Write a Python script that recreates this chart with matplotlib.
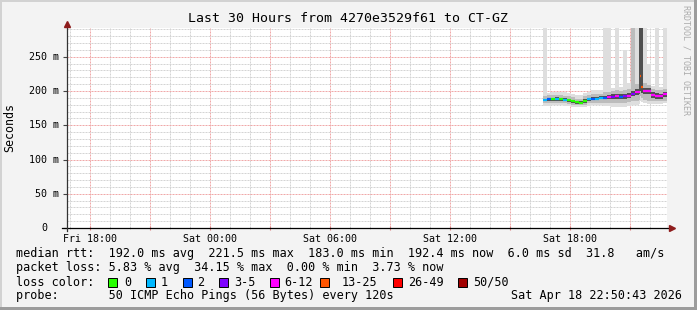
#!/usr/bin/env python3
"""SmokePing style latency graph: last 30 hours, 4270e3529f61 -> CT-GZ."""

import numpy as np
import matplotlib
matplotlib.use("Agg")
import matplotlib.pyplot as plt
import matplotlib.dates as mdates
import matplotlib.patches as mpatches
import matplotlib.transforms as mtransforms
from matplotlib.ticker import MultipleLocator, FuncFormatter

MONO = "DejaVu Sans Mono"
DAY = "2026-04-18"
T_START = "2026-04-17T16:50:43"
T_END = "2026-04-18T22:50:43"

# consolidated steps (start times, Sat 18 Apr); last step ends at 22:50
times = ["16:38", "16:50", "17:02", "17:14", "17:26", "17:38", "17:50", "18:02",
         "18:14", "18:26", "18:38", "18:50", "19:02", "19:14", "19:26", "19:38",
         "19:50", "20:02", "20:14", "20:26", "20:38", "20:50", "21:02", "21:14",
         "21:26", "21:30", "21:34", "21:38", "21:50", "22:02", "22:14", "22:26",
         "22:38"]
END_TIME = "22:50"

# median rtt (ms) and lost pings out of 50
median = [187, 188, 188, 188.5, 188, 187.5, 186.5, 185, 183.5, 183, 185.5, 188,
          189, 189, 190, 190, 191, 191.5, 192, 191.5, 192, 193, 196, 198,
          199, 221.5, 206, 200, 200, 194, 193, 192.5, 195]
lost = [1, 2, 0, 1, 0, 1, 0, 0, 0, 0, 0, 1, 2, 1, 1, 2, 7, 4, 9, 2, 4, 8, 4, 8,
        10, 17, 15, 9, 8, 10, 8, 9, 8]

# smoke: ping distribution per step (ms)
ping_min = [178, 178, 179, 179, 179, 178, 178, 177, 176, 176, 177, 178, 179, 179,
            179, 178, 178, 177, 177, 177, 177, 178, 179, 180, 181, 185, 184, 182,
            181, 181, 181, 181, 182]
band_lo = [182, 183, 183, 183, 183, 182, 181, 180, 179, 179, 180, 182, 183, 183,
           183, 183, 183, 183, 183, 183, 183, 184, 185, 186, 187, 192, 190, 187,
           186, 185, 185, 185, 186]
core_lo = [185, 186, 186, 186, 186, 185, 184, 183, 181, 181, 183, 186, 187, 187,
           188, 188, 188, 189, 189, 189, 189, 190, 192, 194, 196, 200, 197, 195,
           195, 190, 189, 189, 191]
core_hi = [189, 190, 190, 191, 190, 190, 189, 187, 186, 185, 188, 190, 191, 191,
           192, 193, 194, 195, 195, 195, 196, 197, 200, 203, 900, 900, 700, 205,
           204, 198, 197, 196, 199]
band_hi = [193, 194, 194, 194, 194, 193, 192, 191, 189, 189, 192, 194, 195, 195,
           196, 198, 199, 200, 201, 200, 201, 203, 330, 210, 900, 900, 900, 212,
           209, 203, 202, 201, 203]
ping_max = [420, 197, 199, 199, 198, 198, 197, 196, 194, 194, 197, 199, 201, 201,
            202, 450, 380, 205, 500, 206, 260, 212, 600, 480, 900, 900, 900, 500,
            240, 207, 400, 206, 450]

yticks = [0, 50, 100, 150, 200, 250]
ytick_labels = ["0", "50 m", "100 m", "150 m", "200 m", "250 m"]

loss_bins = [(0, 0), (1, 1), (2, 2), (3, 5), (6, 12), (13, 25), (26, 49), (50, 50)]
loss_names = ["0", "1", "2", "3-5", "6-12", "13-25", "26-49", "50/50"]
loss_colors = ["#26ff00", "#00b8ff", "#0059ff", "#7e00ff", "#ff00ff",
               "#ff5500", "#ff0000", "#a10000"]

legend_lines = [
    "median rtt:  192.0 ms avg  221.5 ms max  183.0 ms min  192.4 ms now  6.0 ms sd  31.8   am/s",
    "packet loss: 5.83 % avg  34.15 % max  0.00 % min  3.73 % now",
    "loss color:",
    "probe:       50 ICMP Echo Pings (56 Bytes) every 120s",
]
stamp = "Sat Apr 18 22:50:43 2026"


def loss_color(n):
    for (lo, hi), c in zip(loss_bins, loss_colors):
        if lo <= n <= hi:
            return c
    return loss_colors[-1]


W, H = 697, 310
fig = plt.figure(figsize=(W / 100, H / 100), dpi=100, facecolor="#f3f3f3")
# 3d frame
fig.patches.append(mpatches.Rectangle((0, 1 - 2 / H), 1, 2 / H, transform=fig.transFigure, color="#d2d2d2", lw=0))
fig.patches.append(mpatches.Rectangle((0, 0), 2 / W, 1, transform=fig.transFigure, color="#d2d2d2", lw=0))
fig.patches.append(mpatches.Rectangle((0, 0), 1, 3 / H, transform=fig.transFigure, color="#9c9c9c", lw=0))
fig.patches.append(mpatches.Rectangle((1 - 3 / W, 0), 3 / W, 1, transform=fig.transFigure, color="#9c9c9c", lw=0))

ax = fig.add_axes([67 / W, (H - 228) / H, 600 / W, 200 / H])
ax.set_facecolor("white")

starts = np.array([f"{DAY}T{t}" for t in times], dtype="datetime64[s]")
ends = np.append(starts[1:], np.datetime64(f"{DAY}T{END_TIME}"))
x0 = mdates.date2num(starts)
x1 = mdates.date2num(ends)
w = x1 - x0

pmin, pmax = np.array(ping_min), np.array(ping_max)
blo, bhi = np.array(band_lo), np.array(band_hi)
clo, chi = np.array(core_lo), np.array(core_hi)

# ---- smoke ----
ax.bar(x0, pmax - pmin, width=w, bottom=pmin, align="edge", color="#dedede", lw=0, zorder=2)
ax.bar(x0, bhi - blo, width=w, bottom=blo, align="edge", color="#bcbcbc", lw=0, zorder=2)
ax.bar(x0, chi - clo, width=w, bottom=clo, align="edge", color="#505050", lw=0, zorder=2)

# ---- median, coloured by loss ----
ax.hlines(median, x0, x1, colors=[loss_color(n) for n in lost], lw=1.6, zorder=4)

ax.set_xlim(mdates.date2num(np.datetime64(T_START)), mdates.date2num(np.datetime64(T_END)))
ax.set_ylim(0, 292)

# grid
ax.xaxis.set_major_locator(mdates.HourLocator(byhour=range(0, 24, 3)))
ax.xaxis.set_minor_locator(mdates.HourLocator())
ax.yaxis.set_major_locator(MultipleLocator(50))
ax.yaxis.set_minor_locator(MultipleLocator(10))
ax.grid(which="minor", color="#d4d4d4", lw=0.72, ls=(0, (2, 1)), zorder=1)
ax.grid(which="major", color="#f0a8a8", lw=0.72, ls=(0, (2, 1)), zorder=1)
ax.set_axisbelow(True)


def xlabel(v, pos):
    d = mdates.num2date(v)
    return d.strftime("%a %H:%M") if d.hour % 6 == 0 else ""


ax.xaxis.set_major_formatter(FuncFormatter(xlabel))
ax.tick_params(axis="x", which="major", length=3, direction="inout", color="#e08080",
               pad=3, labelsize=7.2, labelfontfamily=MONO)
ax.tick_params(axis="x", which="minor", length=2, direction="inout", color="#bbbbbb")
ax.tick_params(axis="y", which="major", length=3, direction="out", color="#444444", labelleft=False)
ax.tick_params(axis="y", which="minor", length=0)

for s in ax.spines.values():
    s.set_visible(False)

# axes with arrows
ax.plot([-5 / 600, 1.004], [0, 0], transform=ax.transAxes, color="black", lw=0.9, clip_on=False, zorder=6)
ax.plot([0, 0], [-3 / 200, 1.012], transform=ax.transAxes, color="#333333", lw=0.9, clip_on=False, zorder=6)
ax.plot([1.0085], [0], marker=">", ms=4, color="#8e1c1c", transform=ax.transAxes, clip_on=False, zorder=7)
ax.plot([0], [1.022], marker="^", ms=4, color="#8e1c1c", transform=ax.transAxes, clip_on=False, zorder=7)

# y labels
ylab_tr = mtransforms.blended_transform_factory(ax.transAxes, ax.transData)
for v, lab in zip(yticks, ytick_labels):
    off = -20 if lab == "0" else -8
    tr = ylab_tr + mtransforms.ScaledTranslation(off / 100, 0, fig.dpi_scale_trans)
    ax.text(0, v, lab, transform=tr, ha="right", va="center", fontsize=7.2, family=MONO)

fig.text(10 / W, 1 - 128 / H, "Seconds", rotation=90, ha="center", va="center", fontsize=8.4, family=MONO)
fig.text(348 / W, 1 - 19 / H, "Last 30 Hours from 4270e3529f61 to CT-GZ",
         ha="center", va="center", fontsize=9.5, family=MONO)
fig.text(686 / W, 1 - 60 / H, "RRDTOOL / TOBI OETIKER", rotation=270,
         ha="center", va="center", fontsize=6, family=MONO, color="#ababab")

# legend block
for i, line in enumerate(legend_lines):
    fig.text(16 / W, 1 - (254 + 14 * i) / H, line, ha="left", va="center", fontsize=8.5, family=MONO)
fig.text(682 / W, 1 - 296 / H, stamp, ha="right", va="center", fontsize=8.5, family=MONO)

box_x = [108, 146, 183, 219, 270, 320, 393, 458]
lab_x = [124, 161, 197, 234, 284, 342, 408, 473]
for bx, lx, name, c in zip(box_x, lab_x, loss_names, loss_colors):
    fig.patches.append(mpatches.Rectangle((bx / W, 1 - 287 / H), 9 / W, 9 / H, transform=fig.transFigure,
                                          facecolor=c, edgecolor="black", lw=0.7))
    fig.text(lx / W, 1 - 282 / H, name, ha="left", va="center", fontsize=8.5, family=MONO)

fig.savefig("out.png", dpi=100, facecolor=fig.get_facecolor())
